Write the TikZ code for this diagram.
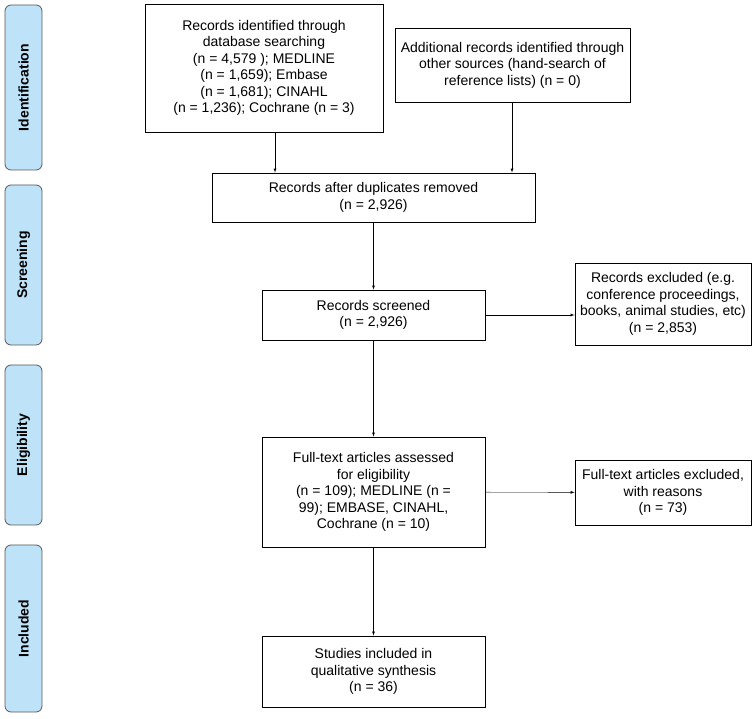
\documentclass[tikz,border=0pt]{standalone}
\usepackage{fontspec}
\setmainfont{Liberation Sans}
\definecolor{sidefill}{RGB}{190,226,247}
\begin{document}
\begin{tikzpicture}[x=1pt,y=-1pt,
  box/.style={draw,thick,fill=white,align=center,inner sep=2pt,font=\fontsize{14}{16.5}\selectfont},
  side/.style={draw=gray!70!black,thick,fill=sidefill,rounded corners=6pt},
  sidelab/.style={rotate=90,font=\bfseries\fontsize{14}{16}\selectfont},
  arr/.style={-latex}]
\useasboundingbox (0,0) rectangle (756,719);
\foreach \n/\a/\b/\t in {s1/5/170/Identification,s2/185/345/Screening,s3/365/525/Eligibility,s4/545/712/Included}{
  \draw[side] (5,\a) rectangle (42,\b);
  \node[sidelab] (\n) at (23.5,{(\a+\b)/2}) {\t};
}
\node[box,minimum width=238,minimum height=128] (b1) at (264,68) {Records identified through\\database searching\\(n = 4,579 ); MEDLINE\\(n = 1,659); Embase\\(n = 1,681); CINAHL\\(n = 1,236); Cochrane (n = 3)};
\node[box,minimum width=235,minimum height=74] (b2) at (512.5,65) {Additional records identified through\\other sources (hand-search of\\reference lists) (n = 0)};
\node[box,minimum width=323,minimum height=49] (b3) at (373.5,197.5) {Records after duplicates removed\\(n = 2,926)};
\node[box,minimum width=223,minimum height=50] (b4) at (373.5,315) {Records screened\\(n = 2,926)};
\node[box,minimum width=176,minimum height=82] (e1) at (663,304) {Records excluded (e.g.\\conference proceedings,\\books, animal studies, etc)\\(n = 2,853)};
\node[box,minimum width=223,minimum height=110] (b5) at (373.5,492) {Full-text articles assessed\\for eligibility\\(n = 109); MEDLINE (n =\\99); EMBASE, CINAHL,\\Cochrane (n = 10)};
\node[box,minimum width=176,minimum height=65] (e2) at (663,492.5) {Full-text articles excluded,\\with reasons\\(n = 73)};
\node[box,minimum width=223,minimum height=71] (b6) at (373.5,671.5) {Studies included in\\qualitative synthesis\\(n = 36)};
\draw[arr] (b1.south -| 275,0) -- (b3.north -| 275,0);
\draw[arr] (b2.south -| 512,0) -- (b3.north -| 512,0);
\draw[arr] (b3) -- (b4);
\draw[arr] (b4) -- (e1.west |- b4);
\draw[arr] (b4) -- (b5);
\draw[arr] (b5) -- (e2);
\draw[arr] (b5) -- (b6);
\end{tikzpicture}
\end{document}
